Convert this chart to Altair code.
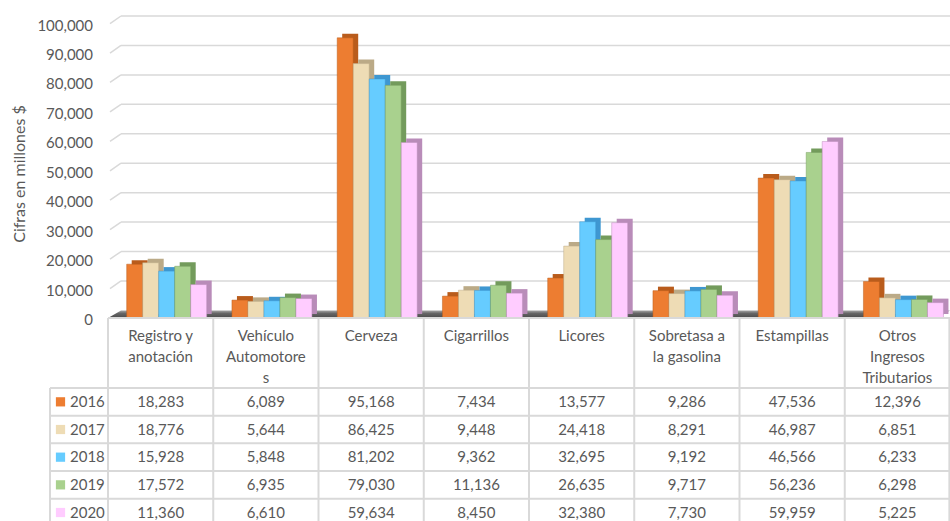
import altair as alt
import pandas as pd

# ---- data -------------------------------------------------------------
CATEGORIES = [
    "Registro y anotación", "Vehículo Automotores", "Cerveza", "Cigarrillos",
    "Licores", "Sobretasa a la gasolina", "Estampillas", "Otros Ingresos Tributarios",
]
# header text as it wraps inside the data-table cells
CATEGORY_LINES = [
    "Registro y\nanotación", "Vehículo\nAutomotore\ns", "Cerveza", "Cigarrillos",
    "Licores", "Sobretasa a\nla gasolina", "Estampillas", "Otros\nIngresos\nTributarios",
]
YEARS = ["2016", "2017", "2018", "2019", "2020"]
V2016 = [18283, 6089, 95168, 7434, 13577, 9286, 47536, 12396]
V2017 = [18776, 5644, 86425, 9448, 24418, 8291, 46987, 6851]
V2018 = [15928, 5848, 81202, 9362, 32695, 9192, 46566, 6233]
V2019 = [17572, 6935, 79030, 11136, 26635, 9717, 56236, 6298]
V2020 = [11360, 6610, 59634, 8450, 32380, 7730, 59959, 5225]
SERIES = [V2016, V2017, V2018, V2019, V2020]
Y_TICKS = [0, 10000, 20000, 30000, 40000, 50000, 60000, 70000, 80000, 90000, 100000]
Y_TITLE = "Cifras en millones $"

# ---- styling ----------------------------------------------------------
FRONT = ["#ED7D31", "#EEDCB5", "#66CCFF", "#A9D18E", "#FFCCFF"]
SIDE = ["#B95C1C", "#BBAA87", "#3E97D1", "#739B5C", "#B98CB9"]
TEXT = "#595959"
LINE = "#D9D9D9"
FONT = "Lato"
FS = 15

# ---- layout (pixels) --------------------------------------------------
PLOT_W, PLOT_H = 842, 521
LEFT = 108
GROUP_PX = PLOT_W / len(CATEGORIES)
PX_PER_VAL = 0.002944          # vertical pixels per unit of value
BASE_PX = 318                  # y of the front floor edge (value 0)
BAR_L_PX, BAR_W_PX = 18.7, 16
DEPTH_X_PX, DEPTH_Y_PX = 5, 4  # bar depth
WALL_X_PX, WALL_Y_PX = 13, 7.6 # floor depth / back wall offset
ROW_PX = 27.67
HEADER_PX = 70


def ux(px):
    return px / GROUP_PX


def uv(px):
    return px / PX_PER_VAL


V_DOMAIN = [-(PLOT_H - BASE_PX) / PX_PER_VAL, BASE_PX / PX_PER_VAL]
R_DOMAIN = [-BASE_PX / ROW_PX, (PLOT_H - BASE_PX) / ROW_PX]
HEAD_R = HEADER_PX / ROW_PX

xs = alt.Scale(domain=[0, len(CATEGORIES)], nice=False, zero=False)
vs = alt.Scale(domain=V_DOMAIN, nice=False, zero=False)
rs = alt.Scale(domain=R_DOMAIN, nice=False, zero=False, reverse=True)

# ---- long table of values ---------------------------------------------
rows = []
for j, (year, vals) in enumerate(zip(YEARS, SERIES)):
    for i, cat in enumerate(CATEGORIES):
        rows.append({"cat": cat, "i": i, "year": year, "j": j, "value": vals[i]})
df = pd.DataFrame(rows)

base = alt.Chart(df).transform_calculate(
    x0=f"datum.i + {ux(BAR_L_PX)} + datum.j * {ux(BAR_W_PX)}",
).transform_calculate(
    x1=f"datum.x0 + {ux(BAR_W_PX)}",
    zero="0",
)

# dark side/top faces: the bar box pushed back by the depth offset
side = base.transform_calculate(
    sx0=f"datum.x0 + {ux(DEPTH_X_PX)}",
    sx1=f"datum.x1 + {ux(DEPTH_X_PX)}",
    sy0=f"{uv(DEPTH_Y_PX)}",
    sy1=f"datum.value + {uv(DEPTH_Y_PX)}",
).mark_rect().encode(
    x=alt.X("sx0:Q", scale=xs, axis=None),
    x2="sx1:Q",
    y=alt.Y("sy0:Q", scale=vs, axis=None),
    y2="sy1:Q",
    color=alt.Color("year:N", scale=alt.Scale(domain=YEARS, range=SIDE), legend=None),
)

front = base.mark_rect(strokeWidth=0.8, strokeOpacity=0.6).encode(
    x=alt.X("x0:Q", scale=xs, axis=None),
    x2="x1:Q",
    y=alt.Y("zero:Q", scale=vs, axis=None),
    y2="value:Q",
    fill=alt.Fill("year:N", scale=alt.Scale(domain=YEARS, range=FRONT), legend=None),
    stroke=alt.Stroke("year:N", scale=alt.Scale(domain=YEARS, range=SIDE), legend=None),
)

# value-axis labels and title, placed left of the plot
tick_df = pd.DataFrame({"v": Y_TICKS})
tick_labels = alt.Chart(tick_df).transform_calculate(
    xl=f"{-ux(15)}"
).mark_text(
    font=FONT, fontSize=FS, color=TEXT, align="right", baseline="middle", dy=2,
).encode(
    x=alt.X("xl:Q", scale=xs, axis=None),
    y=alt.Y("v:Q", scale=vs, axis=None),
    text=alt.Text("v:Q", format=","),
)
title_df = pd.DataFrame({"t": [Y_TITLE]})
y_title = alt.Chart(title_df).transform_calculate(
    xt=f"{-ux(LEFT - 20)}", yt=f"{(BASE_PX - 174) / PX_PER_VAL}"
).mark_text(
    font=FONT, fontSize=FS + 1, color=TEXT, angle=270, align="center", baseline="middle",
).encode(
    x=alt.X("xt:Q", scale=xs, axis=None),
    y=alt.Y("yt:Q", scale=vs, axis=None),
    text="t:N",
)

# back-wall gridlines with their slanted run down to the front plane
grid_df = pd.DataFrame({"v": Y_TICKS[1:]})
grid_h = alt.Chart(grid_df).transform_calculate(
    xa=f"{ux(WALL_X_PX)}", xb=f"{len(CATEGORIES)}", yb=f"datum.v + {uv(WALL_Y_PX)}",
).mark_rule(color=LINE, strokeWidth=1.5).encode(
    x=alt.X("xa:Q", scale=xs, axis=None), x2="xb:Q",
    y=alt.Y("yb:Q", scale=vs, axis=None),
)
grid_s = alt.Chart(grid_df).transform_calculate(
    xa=f"{ux(2)}", xb=f"{ux(WALL_X_PX)}", yb=f"datum.v + {uv(WALL_Y_PX)}",
).mark_rule(color=LINE, strokeWidth=1.5).encode(
    x=alt.X("xa:Q", scale=xs, axis=None), x2="xb:Q",
    y=alt.Y("v:Q", scale=vs, axis=None), y2="yb:Q",
)

# floor slab: parallelogram between the front edge and the back wall
n = len(CATEGORIES)
floor_df = pd.DataFrame({
    "fx": [0, ux(WALL_X_PX), n - ux(WALL_X_PX), n],
    "fy": [0, 0, 0, uv(WALL_Y_PX)],
    "fy2": [0, uv(WALL_Y_PX), uv(WALL_Y_PX), uv(WALL_Y_PX)],
})
floor = alt.Chart(floor_df).mark_area(
    color=alt.Gradient(
        gradient="linear", x1=0, y1=0, x2=0, y2=1,
        stops=[alt.GradientStop(color="#A8A8A8", offset=0),
               alt.GradientStop(color="#666666", offset=0.4),
               alt.GradientStop(color="#4A4A4A", offset=1)],
    )
).encode(
    x=alt.X("fx:Q", scale=xs, axis=None),
    y=alt.Y("fy:Q", scale=vs, axis=None),
    y2="fy2:Q",
)

bars_part = alt.layer(grid_h, grid_s, floor, side, front, tick_labels, y_title)

# ---- data table under the plot ---------------------------------------
LEG_L = -ux(LEFT - 50)
vline_df = pd.DataFrame({"x": [min(k, n - 0.006) for k in range(n + 1)]})
vlines = alt.Chart(vline_df).transform_calculate(
    r0="0", r1=f"{R_DOMAIN[1]}"
).mark_rule(color=LINE, strokeWidth=2).encode(
    x=alt.X("x:Q", scale=xs, axis=None),
    y=alt.Y("r0:Q", scale=rs, axis=None), y2="r1:Q",
)
leg_line = alt.Chart(pd.DataFrame({"x": [LEG_L]})).transform_calculate(
    r0=f"{HEAD_R}", r1=f"{R_DOMAIN[1]}"
).mark_rule(color=LINE, strokeWidth=2).encode(
    x=alt.X("x:Q", scale=xs, axis=None),
    y=alt.Y("r0:Q", scale=rs, axis=None), y2="r1:Q",
)
hline_df = pd.DataFrame({"k": list(range(len(YEARS)))})
hlines = alt.Chart(hline_df).transform_calculate(
    r=f"{HEAD_R} + datum.k", xa=f"{LEG_L}", xb=f"{n}"
).mark_rule(color=LINE, strokeWidth=2).encode(
    x=alt.X("xa:Q", scale=xs, axis=None), x2="xb:Q",
    y=alt.Y("r:Q", scale=rs, axis=None),
)
top_line = alt.Chart(pd.DataFrame({"r": [0.0]})).transform_calculate(
    xa="0", xb=f"{n}"
).mark_rule(color=LINE, strokeWidth=2).encode(
    x=alt.X("xa:Q", scale=xs, axis=None), x2="xb:Q",
    y=alt.Y("r:Q", scale=rs, axis=None),
)

head_df = pd.DataFrame({"label": CATEGORY_LINES, "i": list(range(n))})
header = alt.Chart(head_df).transform_calculate(
    xc="datum.i + 0.5", r=f"{(329.3 - BASE_PX) / ROW_PX}"
).mark_text(
    font=FONT, fontSize=FS, color=TEXT, baseline="top", align="center",
    lineBreak="\n", lineHeight=21,
).encode(
    x=alt.X("xc:Q", scale=xs, axis=None),
    y=alt.Y("r:Q", scale=rs, axis=None),
    text="label:N",
)

cells = alt.Chart(df).transform_calculate(
    xc="datum.i + 0.5", r=f"{HEAD_R} + datum.j + 0.5"
).mark_text(
    font=FONT, fontSize=FS, color=TEXT, baseline="middle", align="center",
).encode(
    x=alt.X("xc:Q", scale=xs, axis=None),
    y=alt.Y("r:Q", scale=rs, axis=None),
    text=alt.Text("value:Q", format=","),
)

year_df = pd.DataFrame({"year": YEARS, "j": list(range(len(YEARS)))})
leg_sq = alt.Chart(year_df).transform_calculate(
    xc=f"{-ux(LEFT - 60.5)}", r=f"{HEAD_R} + datum.j + 0.5"
).mark_square(size=85, filled=True, opacity=1).encode(
    x=alt.X("xc:Q", scale=xs, axis=None),
    y=alt.Y("r:Q", scale=rs, axis=None),
    fill=alt.Fill("year:N", scale=alt.Scale(domain=YEARS, range=FRONT), legend=None),
)
leg_tx = alt.Chart(year_df).transform_calculate(
    xc=f"{-ux(LEFT - 70)}", r=f"{HEAD_R} + datum.j + 0.5"
).mark_text(
    font=FONT, fontSize=FS, color=TEXT, baseline="middle", align="left",
).encode(
    x=alt.X("xc:Q", scale=xs, axis=None),
    y=alt.Y("r:Q", scale=rs, axis=None),
    text="year:N",
)

table_part = alt.layer(vlines, leg_line, hlines, top_line, header, cells, leg_sq, leg_tx)

chart = alt.layer(bars_part, table_part).resolve_scale(y="independent").properties(
    width=PLOT_W, height=PLOT_H,
    padding={"left": LEFT, "top": 0, "right": 0, "bottom": 0},
    autosize=alt.AutoSizeParams(type="none"),
    background="white",
).configure_view(stroke=None)

chart.save("out.html", embed_options={"renderer": "svg", "actions": False})
